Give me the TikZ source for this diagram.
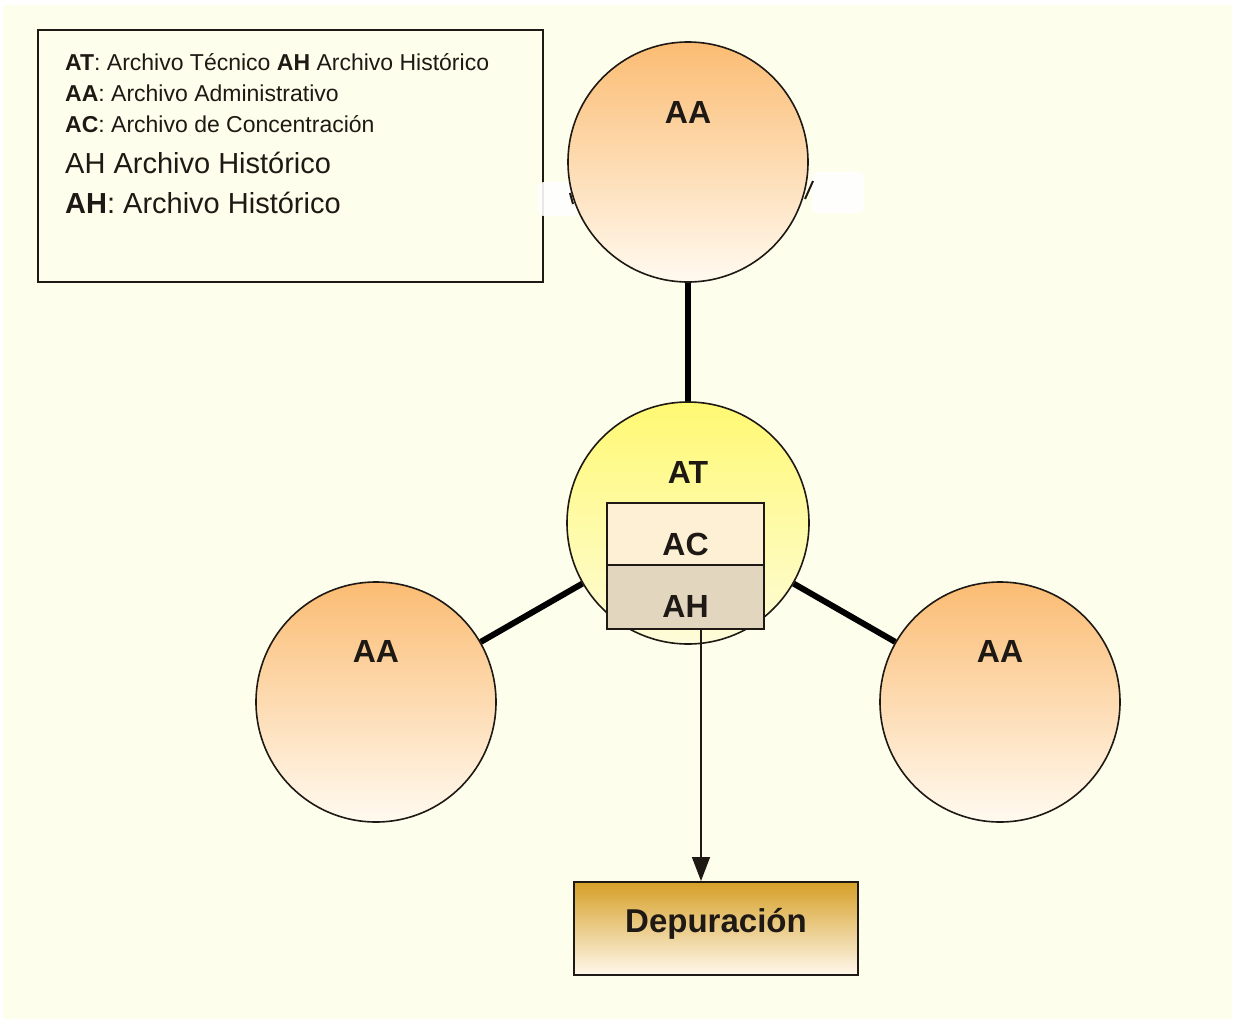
\documentclass[tikz,border=0pt]{standalone}
\usepackage{fontspec}
\setmainfont{Liberation Sans}
\usetikzlibrary{arrows.meta,calc}

\definecolor{paper}{RGB}{253,254,236}
\definecolor{aatop}{RGB}{251,188,115}
\definecolor{aabot}{RGB}{255,250,240}
\definecolor{attop}{RGB}{255,249,115}
\definecolor{atbot}{RGB}{254,252,218}
\definecolor{acfill}{RGB}{253,240,212}
\definecolor{ahfill}{RGB}{226,214,190}
\definecolor{deptop}{RGB}{214,160,40}
\definecolor{depbot}{RGB}{255,248,236}
\definecolor{ink}{RGB}{30,25,20}

\tikzset{
  archive/.style={circle, draw=ink, line width=1.6pt, minimum size=240pt, inner sep=0pt},
  aacircle/.style={archive, top color=aatop, bottom color=aabot},
  atcircle/.style={archive, minimum size=242pt, top color=attop, bottom color=atbot},
  subbox/.style={rectangle, draw=ink, line width=2pt, minimum width=157pt, inner sep=0pt},
  label/.style={anchor=base, font=\fontsize{32}{36}\selectfont\bfseries, text=ink},
  link/.style={line width=6pt, draw=black},
  legsmall/.style={anchor=base west, inner sep=0pt, font=\fontsize{23}{28}\selectfont, text=ink},
  legbig/.style={anchor=base west, inner sep=0pt, font=\fontsize{29}{34}\selectfont, text=ink},
  patch/.style={fill=white, fill opacity=0.9, draw=none, rounded corners=6pt},
}

\begin{document}
\begin{tikzpicture}[x=1pt, y=-1pt]
  % page and paper
  \fill[white] (0,0) rectangle (1237,1023);
  \useasboundingbox (0,0) rectangle (1237,1023);
  \fill[paper] (3,5) rectangle (1232,1019);

  % legend box
  \node[draw=ink, line width=2pt, minimum width=505pt, minimum height=252pt, inner sep=0pt] (legend) at (290.5,156) {};
  \node[legsmall] (l1) at (65,70) {\textbf{AT}: Archivo Técnico \textbf{AH} Archivo Histórico};
  \node[legsmall] (l2) at (65,101) {\textbf{AA}: Archivo Administrativo};
  \node[legsmall] (l3) at (65,132) {\textbf{AC}: Archivo de Concentración};
  \node[legbig] (l4) at (65,173) {AH Archivo Histórico};
  \node[legbig] (l5) at (65,213) {\textbf{AH}: Archivo Histórico};

  % white flecks around the top circle
  \fill[patch] (538,182) rectangle (578,216);
  \fill[patch] (812,172) rectangle (864,213);

  % circles
  \node[atcircle] (at) at (688,523) {};
  \node[aacircle] (aaT) at (688,162) {};
  \node[aacircle] (aaL) at (376,702) {};
  \node[aacircle] (aaR) at (1000,702) {};

  % connectors between the circles
  \draw[link] (at) -- (aaT);
  \draw[link] (at) -- (aaL);
  \draw[link] (at) -- (aaR);

  % small marks on the top circle
  \draw[ink, line width=2pt] (570,193) -- (573,204);
  \draw[ink, line width=2pt] (813,181) -- (805,199);

  % circle labels
  \node[label] (tAAT) at (688,123) {AA};
  \node[label] (tAAL) at (376,662) {AA};
  \node[label] (tAAR) at (1000,662) {AA};
  \node[label] (tAT) at (688,483) {AT};

  % AC / AH stack
  \node[subbox, minimum height=62pt, fill=acfill] (ac) at (685.5,534) {};
  \node[subbox, minimum height=64pt, fill=ahfill] (ah) at (685.5,597) {};
  \node[label] (tAC) at (685.5,555) {AC};
  \node[label] (tAH) at (685.5,617) {AH};

  % Depuración
  \node[rectangle, draw=ink, line width=2pt, minimum width=284pt, minimum height=93pt,
        top color=deptop, bottom color=depbot, inner sep=0pt] (dep) at (716,928.5) {};
  \node[label, font=\fontsize{33}{36}\selectfont\bfseries] (tdep) at (716,932) {Depuración};

  % arrow to Depuración
  \coordinate (arrTop) at ($(ah.south)+(15.5,0)$);
  \draw[ink, line width=1.6pt, -{Triangle[length=24pt,width=18pt]}] (arrTop) -- (arrTop |- dep.north);
\end{tikzpicture}
\end{document}
